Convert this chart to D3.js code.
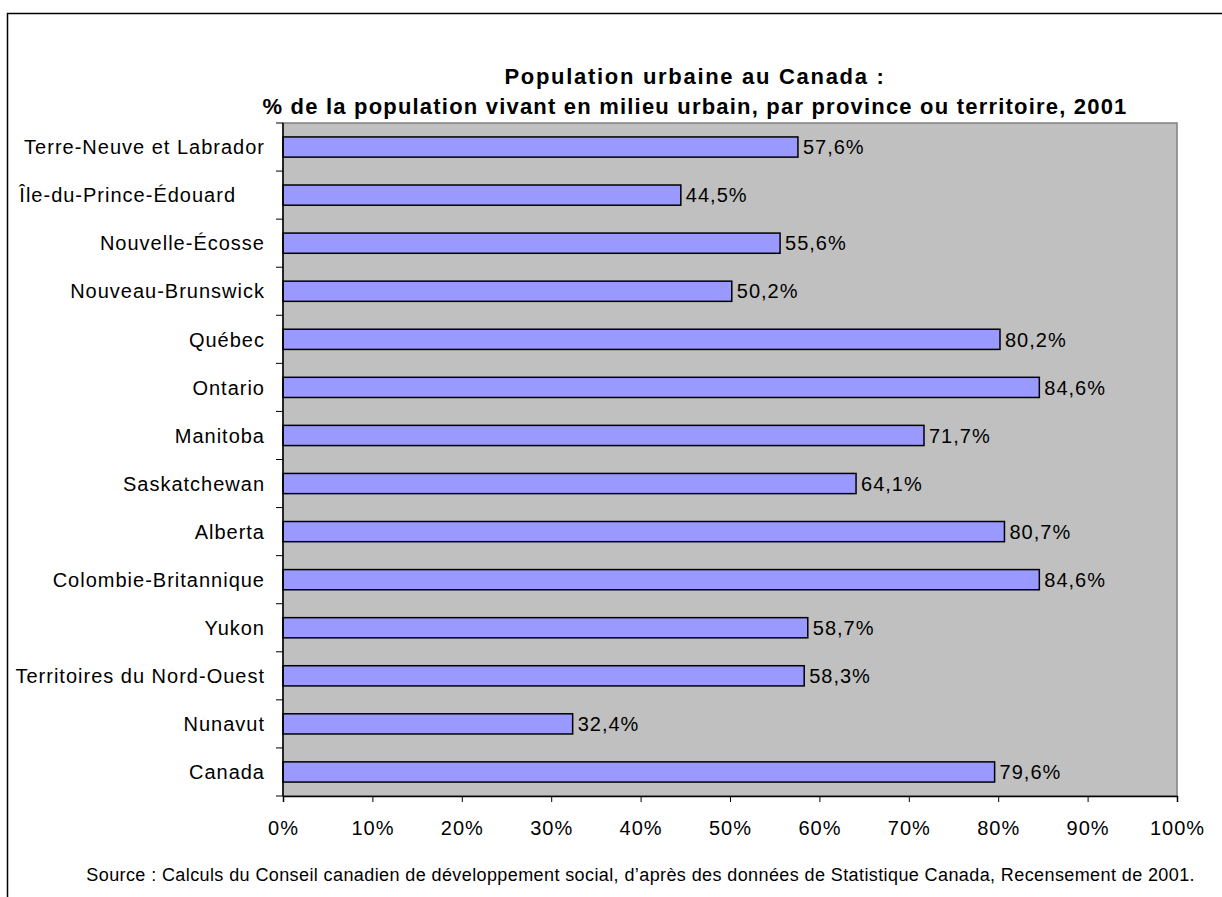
<!DOCTYPE html>
<html><head><meta charset="utf-8">
<script src="https://cdn.jsdelivr.net/npm/d3@7"></script>
<style>
body{margin:0;background:#fff;}
svg{display:block;font-family:"Liberation Sans",Arial,sans-serif;}
</style></head><body>
<script>
const categories = ["Terre-Neuve et Labrador","Île-du-Prince-Édouard","Nouvelle-Écosse","Nouveau-Brunswick","Québec","Ontario","Manitoba","Saskatchewan","Alberta","Colombie-Britannique","Yukon","Territoires du Nord-Ouest","Nunavut","Canada"];
const values = [57.6,44.5,55.6,50.2,80.2,84.6,71.7,64.1,80.7,84.6,58.7,58.3,32.4,79.6];
const valueLabels = ["57,6%","44,5%","55,6%","50,2%","80,2%","84,6%","71,7%","64,1%","80,7%","84,6%","58,7%","58,3%","32,4%","79,6%"];
const tickValues = [0,10,20,30,40,50,60,70,80,90,100];
const titleLines = ["Population urbaine au Canada :","% de la population vivant en milieu urbain, par province ou territoire, 2001"];
const sourceText = "Source : Calculs du Conseil canadien de développement social, d’après des données de Statistique Canada, Recensement de 2001.";

const W=1222,H=897;
const svg=d3.select("body").append("svg").attr("width",W).attr("height",H);
svg.append("path").attr("d",`M7.5,${H} V13.5 H${W}`).attr("fill","none").attr("stroke","#000").attr("stroke-width",1.5);

const L=283,R=1177,T=123,B=796;
const x=d3.scaleLinear().domain([0,100]).range([L,R]);
const y=d3.scaleBand().domain(categories).range([T,B]).paddingInner(0.58).paddingOuter(0.29);
const yb=d3.scaleBand().domain(categories).range([T,B]);

svg.append("rect").attr("x",L).attr("y",T).attr("width",R-L).attr("height",B-T).attr("fill","#c0c0c0").attr("stroke","#808080").attr("stroke-width",1.5);

svg.selectAll(".bar").data(values).join("rect")
 .attr("x",L).attr("y",(d,i)=>y(categories[i])).attr("width",d=>x(d)-L).attr("height",y.bandwidth())
 .attr("fill","#9999ff").attr("stroke","#000").attr("stroke-width",1.5);

svg.selectAll(".vl").data(values).join("text")
 .attr("x",d=>x(d)+5).attr("y",(d,i)=>y(categories[i])+y.bandwidth()/2).attr("dy","0.36em")
 .attr("font-size",20).attr("letter-spacing",1).attr("fill","#000").text((d,i)=>valueLabels[i]);

const yAxis=svg.append("g");
yAxis.append("line").attr("x1",L).attr("x2",L).attr("y1",T).attr("y2",B).attr("stroke","#000").attr("stroke-width",1.5);
const bounds=categories.map(c=>yb(c)).concat([B]);
yAxis.selectAll(".yt").data(bounds).join("line").attr("x1",L-7).attr("x2",L).attr("y1",d=>d).attr("y2",d=>d).attr("stroke","#000");
yAxis.selectAll(".yl").data(categories).join("text")
 .attr("x",c=>c==="Île-du-Prince-Édouard"?L-47:L-18).attr("y",c=>yb(c)+yb.bandwidth()/2).attr("dy","0.36em")
 .attr("text-anchor","end").attr("font-size",20).attr("letter-spacing",1).text(c=>c);

const xAxis=svg.append("g").attr("transform",`translate(0,${B})`)
 .call(d3.axisBottom(x).tickValues(tickValues).tickSize(6).tickPadding(19).tickFormat(d=>d+"%"));
xAxis.select(".domain").attr("stroke","#000").attr("stroke-width",1.5);
xAxis.selectAll(".tick line").attr("stroke","#000");
xAxis.selectAll(".tick text").attr("font-size",20).attr("letter-spacing",1).attr("font-family","Liberation Sans, Arial, sans-serif").attr("fill","#000");

svg.selectAll(".title").data(titleLines).join("text")
 .attr("x",695).attr("y",(d,i)=>84+i*30).attr("text-anchor","middle").attr("font-size",22)
 .attr("letter-spacing",(d,i)=>i===0?1.7:1.2).attr("font-weight","bold").text(d=>d);

svg.append("text").attr("x",1195).attr("y",881).attr("text-anchor","end").attr("font-size",18).attr("letter-spacing",0.4).text(sourceText);
</script>
</body></html>
